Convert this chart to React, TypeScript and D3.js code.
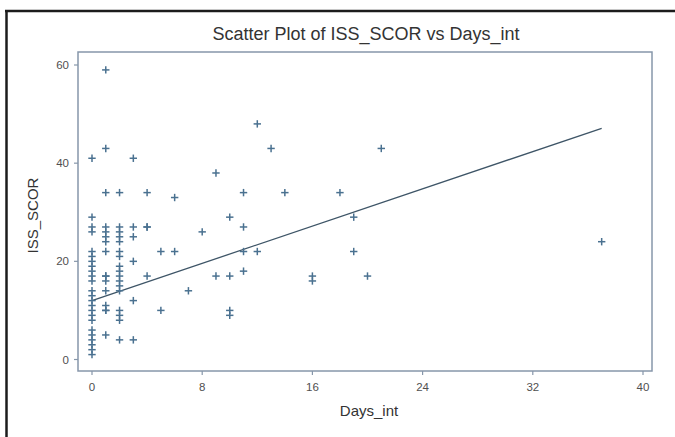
import React from 'react';
import * as d3 from 'd3';

// Days_int / ISS_SCOR pairs, read column by column
const days0 = [41, 29, 27, 26, 22, 21, 20, 19, 18, 17, 16, 14, 13, 12, 11, 10, 9, 8, 6, 5, 4, 3, 2, 1];
const days1 = [59, 43, 34, 27, 26, 25, 24, 22, 17, 17, 16, 14, 11, 10, 10, 5];
const days2 = [34, 27, 26, 25, 24, 22, 21, 19, 18, 17, 16, 15, 14, 10, 9, 8, 4];
const days3 = [41, 27, 25, 20, 12, 4];
const days4 = [34, 27, 27, 17];
const daysOther: [number, number][] = [
  [5, 22], [5, 10], [6, 33], [6, 22], [7, 14], [8, 26], [9, 38], [9, 17],
  [10, 29], [10, 17], [10, 10], [10, 9], [11, 34], [11, 27], [11, 22], [11, 18],
  [12, 48], [12, 22], [13, 43], [14, 34], [16, 17], [16, 16], [18, 34],
  [19, 29], [19, 22], [20, 17], [21, 43], [37, 24],
];

// fitted line end points
const fitX = [0, 37];
const fitY = [12.0, 47.1];

const xTicks = [0, 8, 16, 24, 32, 40];
const yTicks = [0, 20, 40, 60];

const W = 675;
const H = 437;
const plot = { left: 78, right: 652, top: 52, bottom: 371 };
const font = '"Liberation Sans", Arial, sans-serif';

export default function App() {
  const x = d3.scaleLinear().domain([0, 40]).range([92, 643]);
  const y = d3.scaleLinear().domain([0, 60]).range([359.5, 65]);

  const points: [number, number][] = [
    ...days0.map((v) => [0, v] as [number, number]),
    ...days1.map((v) => [1, v] as [number, number]),
    ...days2.map((v) => [2, v] as [number, number]),
    ...days3.map((v) => [3, v] as [number, number]),
    ...days4.map((v) => [4, v] as [number, number]),
    ...daysOther,
  ];

  const fitLine = d3.line<number>()
    .x((d) => x(d))
    .y((_, i) => y(fitY[i]));

  const markerColor = '#4a7190';
  const axisColor = '#8797aa';
  const labelColor = '#505050';
  const arm = 3.7;

  return (
    <div style={{ position: 'absolute', left: 0, top: 0 }}>
      <svg width={W} height={H} style={{ display: 'block', background: '#fff' }}>
        {/* outer frame */}
        <line x1={6.5} x2={6.5} y1={10} y2={H} stroke="#1c1c1c" strokeWidth={2.5} />
        <line x1={5} x2={W} y1={11} y2={11} stroke="#1c1c1c" strokeWidth={2.5} />

        <text x={366} y={40} textAnchor="middle" fontFamily={font} fontSize={18} fill="#333">
          Scatter Plot of ISS_SCOR vs Days_int
        </text>

        {/* plot frame */}
        <rect
          x={plot.left}
          y={plot.top}
          width={plot.right - plot.left}
          height={plot.bottom - plot.top}
          fill="none"
          stroke={axisColor}
          strokeWidth={1.5}
        />

        {/* x axis */}
        {xTicks.map((t) => (
          <g key={'x' + t}>
            <line x1={x(t)} x2={x(t)} y1={plot.bottom} y2={plot.bottom + 4} stroke={axisColor} strokeWidth={1.2} />
            <text x={x(t)} y={391} textAnchor="middle" fontFamily={font} fontSize={11.5} fill={labelColor}>
              {t}
            </text>
          </g>
        ))}
        <text x={369} y={416} textAnchor="middle" fontFamily={font} fontSize={15} fill="#333">
          Days_int
        </text>

        {/* y axis */}
        {yTicks.map((t) => (
          <g key={'y' + t}>
            <line x1={plot.left - 4} x2={plot.left} y1={y(t)} y2={y(t)} stroke={axisColor} strokeWidth={1.2} />
            <text x={69} y={y(t) + 4} textAnchor="end" fontFamily={font} fontSize={11.5} fill={labelColor}>
              {t}
            </text>
          </g>
        ))}
        <text
          transform={`translate(38,${(plot.top + plot.bottom) / 2 + 4}) rotate(-90)`}
          textAnchor="middle"
          fontFamily={font}
          fontSize={15}
          fill="#333"
        >
          ISS_SCOR
        </text>

        {/* fitted line */}
        <path d={fitLine(fitX) || ''} fill="none" stroke="#3e5567" strokeWidth={1.3} />

        {/* points */}
        {points.map(([dx, dy], i) => (
          <g key={i} stroke={markerColor} strokeWidth={1.5}>
            <line x1={x(dx) - arm} x2={x(dx) + arm} y1={y(dy)} y2={y(dy)} />
            <line x1={x(dx)} x2={x(dx)} y1={y(dy) - arm} y2={y(dy) + arm} />
          </g>
        ))}
      </svg>
    </div>
  );
}
